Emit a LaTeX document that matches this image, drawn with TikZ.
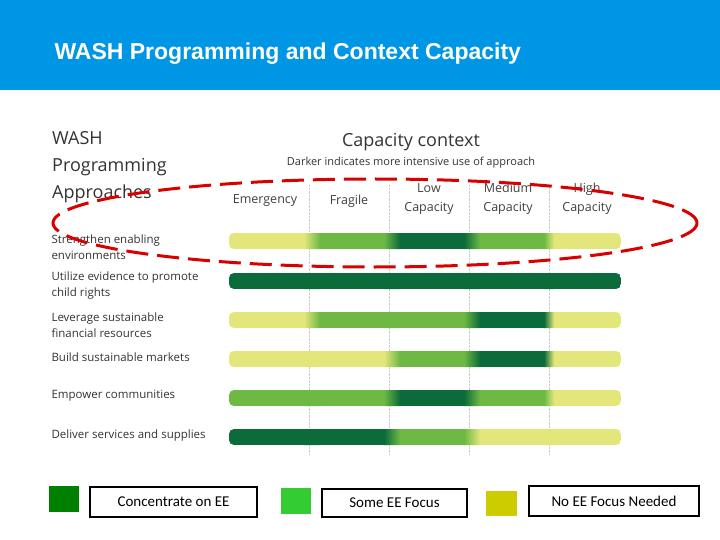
\documentclass[tikz,border=0pt]{standalone}
\usepackage{fontspec}
\setmainfont{Liberation Sans}
\newfontfamily\lab{Open Sans}
\newfontfamily\leg{Carlito}
\definecolor{hdr}{HTML}{0096E6}
\definecolor{cL}{HTML}{E3E67A}
\definecolor{cM}{HTML}{6DB944}
\definecolor{cD}{HTML}{0B6B3A}
\definecolor{lgD}{HTML}{008000}
\definecolor{lgM}{HTML}{33CC33}
\definecolor{lgY}{HTML}{CCCC00}
\newcommand{\wbar}[6]{%
 \begin{scope}
 \clip[rounded corners=5pt] (229,#1-8) rectangle (621,#1+8);
 \fill[#2] (229,#1-8) rectangle (309,#1+8);
 \fill[#3] (309,#1-8) rectangle (389,#1+8);
 \fill[#4] (389,#1-8) rectangle (469,#1+8);
 \fill[#5] (469,#1-8) rectangle (549,#1+8);
 \fill[#6] (549,#1-8) rectangle (621,#1+8);
 \shade[left color=#2,right color=#3] (304,#1-8) rectangle (320,#1+8);
 \shade[left color=#3,right color=#4] (384,#1-8) rectangle (400,#1+8);
 \shade[left color=#4,right color=#5] (464,#1-8) rectangle (480,#1+8);
 \shade[left color=#5,right color=#6] (544,#1-8) rectangle (554,#1+8);
 \end{scope}}
\tikzset{rowlab/.style={anchor=west,align=left,font=\lab\fontsize{11.5}{16}\selectfont,text=black!80},
 colhd/.style={align=center,font=\lab\fontsize{12.5}{19}\selectfont,text=black!75},
 legbox/.style={draw,line width=2pt,anchor=west,font=\leg\fontsize{15}{17}\selectfont,inner sep=4pt}}
\begin{document}
\begin{tikzpicture}[x=1pt,y=-1pt]
\useasboundingbox (0,0) rectangle (720,540);
\fill[hdr] (0,0) rectangle (720,90);
\node[anchor=west,text=white,font=\bfseries\fontsize{23}{26}\selectfont] (title) at (51,54) {WASH Programming and Context Capacity};
\foreach \x in {309,389,469,549} \draw[gray!40,densely dotted] (\x,185) -- (\x,455);
\node[anchor=north west,align=left,font=\lab\fontsize{18}{27}\selectfont,text=black!80,inner sep=0] (wash) at (52,131) {WASH\\Programming\\Approaches};
\node[font=\lab\fontsize{18}{20}\selectfont,text=black!80] (cc) at (411,142) {Capacity context};
\node[font=\lab\fontsize{11}{13}\selectfont,text=black!80] (sub) at (411,163) {Darker indicates more intensive use of approach};
\node[colhd] (h1) at (265,201) {Emergency};
\node[colhd] (h2) at (349,201) {Fragile};
\node[colhd] (h3) at (429,199) {Low\\Capacity};
\node[colhd] (h4) at (508,199) {Medium\\Capacity};
\node[colhd] (h5) at (587,199) {High\\Capacity};
\wbar{241}{cL}{cM}{cD}{cM}{cL}
\wbar{281}{cD}{cD}{cD}{cD}{cD}
\wbar{320}{cL}{cM}{cM}{cD}{cL}
\wbar{359}{cL}{cL}{cM}{cD}{cL}
\wbar{398}{cM}{cM}{cD}{cM}{cL}
\wbar{437}{cD}{cD}{cM}{cL}{cL}
\node[rowlab] (r1) at (48,247) {Strengthen enabling\\environments};
\node[rowlab] (r2) at (48,286) {Utilize evidence to promote\\child rights};
\node[rowlab] (r3) at (48,325) {Leverage sustainable\\financial resources};
\node[rowlab] (r4) at (48,357) {Build sustainable markets};
\node[rowlab] (r5) at (48,396) {Empower communities};
\node[rowlab] (r6) at (48,436) {Deliver services and supplies};
\draw[red!85!black,line width=3pt,dash pattern=on 22pt off 9pt] (375,223) ellipse [x radius=322,y radius=44];
\fill[lgD] (49,486) rectangle (79,512);
\node[legbox,minimum width=167pt,minimum height=30pt] (l1) at (89,502) {Concentrate on EE};
\fill[lgM] (281,488) rectangle (311,514);
\node[legbox,minimum width=145pt,minimum height=28pt] (l2) at (321,503) {Some EE Focus};
\fill[lgY] (486,491) rectangle (517,516);
\node[legbox,minimum width=170pt,minimum height=30pt] (l3) at (528,501) {No EE Focus Needed};
\end{tikzpicture}
\end{document}
